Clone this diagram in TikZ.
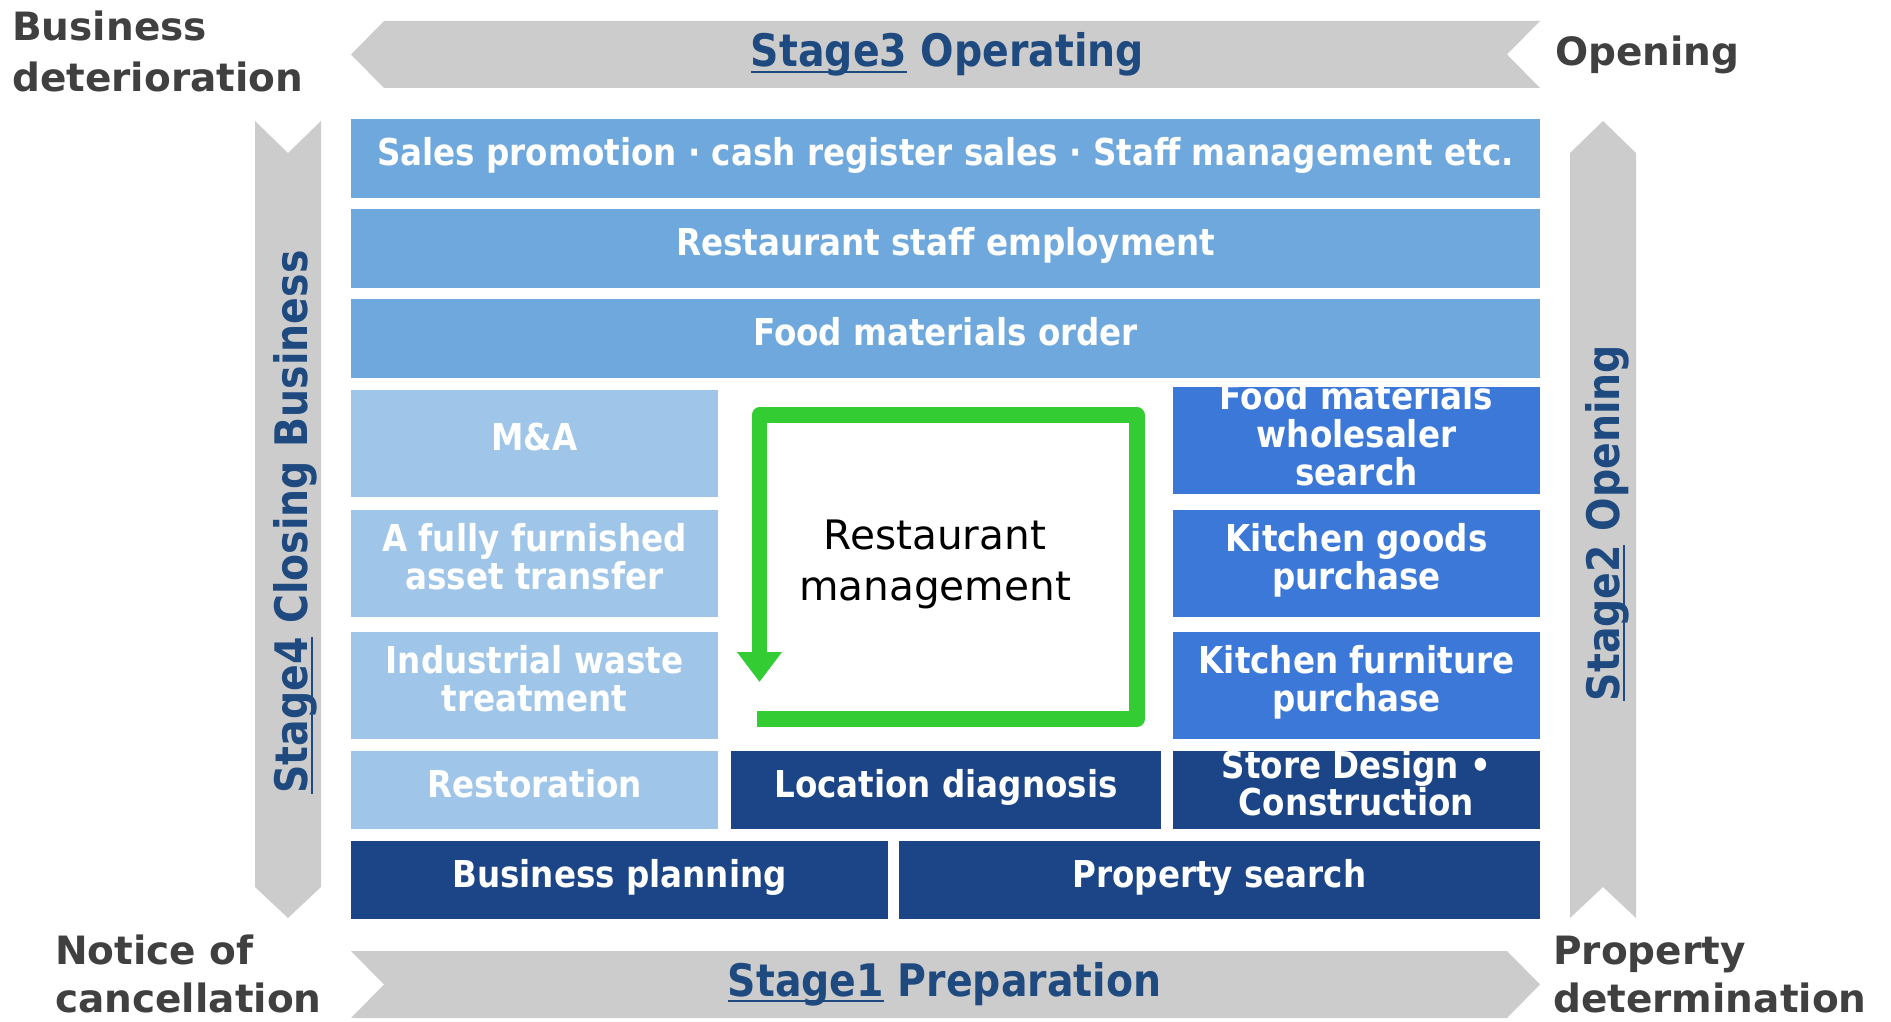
\documentclass[tikz,border=0pt]{standalone}
\usepackage{fontspec}
\setmainfont{DejaVu Sans}
\newfontfamily\narrowfont{DejaVu Sans}[FakeStretch=0.88]
\usetikzlibrary{arrows.meta}
\definecolor{rowblue}{HTML}{6FA8DC}
\definecolor{leftblue}{HTML}{9FC5E8}
\definecolor{rightblue}{HTML}{3C78D8}
\definecolor{darkblue}{HTML}{1C4587}
\definecolor{arrowgray}{HTML}{CCCCCC}
\definecolor{stagecol}{HTML}{1F4A80}
\definecolor{labelgray}{HTML}{404040}
\definecolor{loopgreen}{HTML}{33CC33}
\newsavebox\stulbox
\newcommand\stul[1]{\sbox\stulbox{#1}\rlap{\rule[-0.135em]{\wd\stulbox}{0.05em}}\usebox\stulbox}
\begin{document}
\begin{tikzpicture}[x=1pt,y=-1pt,
  box/.style={inner sep=0pt, outer sep=0pt, text=white, align=center,
    font=\narrowfont\bfseries\fontsize{37}{37.6}\selectfont,
    text height=22.6pt, text depth=8.5pt},
  twolines/.style={text height=60.2pt},
  threelines/.style={text height=97.8pt},
  rowbox/.style={box, fill=rowblue, minimum width=1189pt, minimum height=79pt},
  leftbox/.style={box, fill=leftblue, minimum width=367pt},
  rightbox/.style={box, fill=rightblue, minimum width=367pt},
  darkbox/.style={box, fill=darkblue, minimum height=78pt},
  stage/.style={inner sep=0pt, text=stagecol, font=\narrowfont\bfseries\fontsize{44.8}{50}\selectfont},
  corner/.style={inner sep=0pt, align=left, text=labelgray,
    font=\bfseries\fontsize{39}{51.5}\selectfont, text height=29.25pt},
  cornertwo/.style={corner, text height=80.75pt, text depth=0pt},
  cornerlow/.style={corner, font=\bfseries\fontsize{39}{48}\selectfont, text height=77.25pt, text depth=0pt},
  stagearrow/.style={fill=arrowgray}
]
\useasboundingbox (0,0) rectangle (1891,1022);

% stage arrows
\path[stagearrow] (351,54.5) -- (384,21) -- (1540,21) -- (1507,54.5) -- (1540,88) -- (384,88) -- cycle;
\path[stagearrow] (351,951) -- (1507,951) -- (1540,984.5) -- (1507,1018) -- (351,1018) -- (384,984.5) -- cycle;
\path[stagearrow] (255,121) -- (288,153) -- (321,121) -- (321,887) -- (288,918) -- (255,887) -- cycle;
\path[stagearrow] (1570,153) -- (1603,121) -- (1636,153) -- (1636,918) -- (1603,887) -- (1570,918) -- cycle;

\node[stage, anchor=base] (s3) at (947.5,67) {\stul{Stage3} Operating};
\node[stage, anchor=base] (s1) at (944.5,996) {\stul{Stage1} Preparation};
\node[stage, rotate=90, anchor=base] (s4) at (307,522) {\stul{Stage4} Closing Business};
\node[stage, rotate=90, anchor=base] (s2) at (1619,523) {\stul{Stage2} Opening};

% corner labels
\node[cornertwo, anchor=north west] (bd) at (12,10.75) {Business\\deterioration};
\node[corner, anchor=north west] (op) at (1555,35.75) {Opening};
\node[cornerlow, anchor=north west] (nc) at (55,934.75) {Notice of\\cancellation};
\node[cornerlow, anchor=north west] (pd) at (1553,934.75) {Property\\determination};

% full rows
\node[rowbox] (sales) at (945.5,158.5) {Sales promotion · cash register sales · Staff management etc.};
\node[rowbox] (staff) at (945.5,248.5) {Restaurant staff employment};
\node[rowbox] (order) at (945.5,338.5) {Food materials order};

% left column
\node[leftbox, minimum height=107pt] (ma) at (534.5,443.5) {M\&A};
\node[leftbox, twolines, minimum height=107pt] (asset) at (534.5,563.5) {A fully furnished\\asset transfer};
\node[leftbox, twolines, minimum height=107pt] (waste) at (534.5,685.5) {Industrial waste\\treatment};
\node[leftbox, minimum height=78pt] (resto) at (534.5,790) {Restoration};

% right column
\node[rightbox, threelines, minimum height=107pt] (whole) at (1356.5,440.5) {Food materials\\wholesaler\\search};
\node[rightbox, twolines, minimum height=107pt] (kgoods) at (1356.5,563.5) {Kitchen goods\\purchase};
\node[rightbox, twolines, minimum height=107pt] (kfurn) at (1356.5,685.5) {Kitchen furniture\\purchase};

% dark boxes
\node[darkbox, twolines, minimum width=367pt] (store) at (1356.5,790) {Store Design •\\Construction};
\node[darkbox, minimum width=430pt] (loc) at (946,790) {Location diagnosis};
\node[darkbox, minimum width=537pt] (plan) at (619.5,880) {Business planning};
\node[darkbox, minimum width=641pt] (prop) at (1219.5,880) {Property search};

% management loop
\draw[loopgreen, line width=15.5pt, line join=round, -{Triangle[width=43pt,length=30pt]}]
  (757,719) -- (1137,719) -- (1137,415) -- (759.5,415) -- (759.5,682);
\node[anchor=north, align=center, inner sep=0pt, text height=81.45pt,
  font=\fontsize{40.6}{51}\selectfont] (mgmt) at (935,518.5) {Restaurant\\management};
\end{tikzpicture}
\end{document}
